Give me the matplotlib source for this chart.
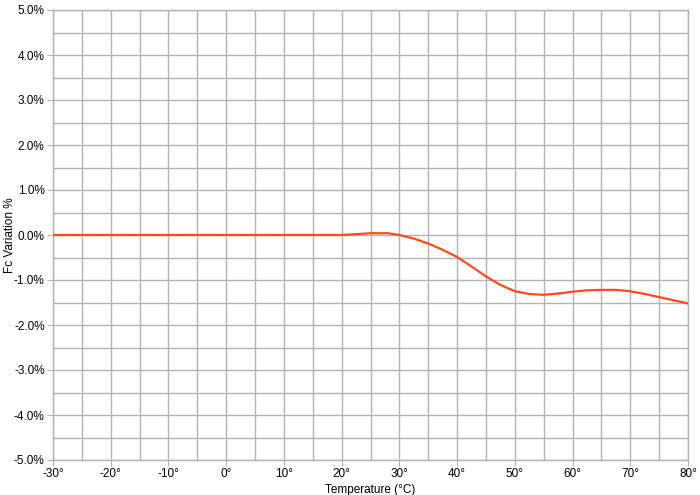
import matplotlib
matplotlib.use("Agg")
import matplotlib.pyplot as plt
from matplotlib.ticker import MultipleLocator, FuncFormatter

plt.rcParams['font.family'] = ['Liberation Sans', 'DejaVu Sans']

temps = [-30, -20, -10, 0, 10, 20, 22, 25, 28, 30, 32.5, 35, 37.5, 40, 42.5, 45,
         47.5, 50, 52.5, 55, 57.5, 60, 62.5, 65, 67.5, 70, 72.5, 75, 77.5, 80]
variation = [0.0, 0.0, 0.0, 0.0, 0.0, 0.0, 0.015, 0.04, 0.04, 0.0, -0.08, -0.19, -0.33,
             -0.49, -0.70, -0.92, -1.11, -1.25, -1.31, -1.33, -1.30, -1.26, -1.23,
             -1.22, -1.22, -1.25, -1.31, -1.38, -1.45, -1.52]

fig = plt.figure(figsize=(7, 4.95), dpi=100)
ax = fig.add_axes([53/700, 35/495, 635/700, 450/495])

grid_c = '#b3b3b3'
ax.plot(temps, variation, color='#ff4a1a', lw=1.6, zorder=3, solid_joinstyle='round')

ax.set_xlim(-30, 80)
ax.set_ylim(-5, 5)
ax.xaxis.set_major_locator(MultipleLocator(10))
ax.xaxis.set_minor_locator(MultipleLocator(5))
ax.yaxis.set_major_locator(MultipleLocator(1))
ax.yaxis.set_minor_locator(MultipleLocator(0.5))
ax.xaxis.set_major_formatter(FuncFormatter(lambda v, p: f"{int(round(v))}°"))
ax.yaxis.set_major_formatter(FuncFormatter(lambda v, p: f"{v:.1f}%"))
ax.grid(True, which='both', color=grid_c, lw=1.0)
ax.set_axisbelow(True)
for s in ax.spines.values():
    s.set_color(grid_c)
    s.set_linewidth(1.0)
ax.tick_params(which='major', length=4, color=grid_c, labelsize=8.5, pad=2)
ax.tick_params(which='minor', length=0)
ax.set_xlabel('Temperature (°C)', fontsize=8.5, labelpad=3)
fig.text(10/700, 1 - 235/495, 'Fc Variation %', rotation=90, ha='center', va='center',
         fontsize=8.5)

fig.savefig('out.png', dpi=100)
